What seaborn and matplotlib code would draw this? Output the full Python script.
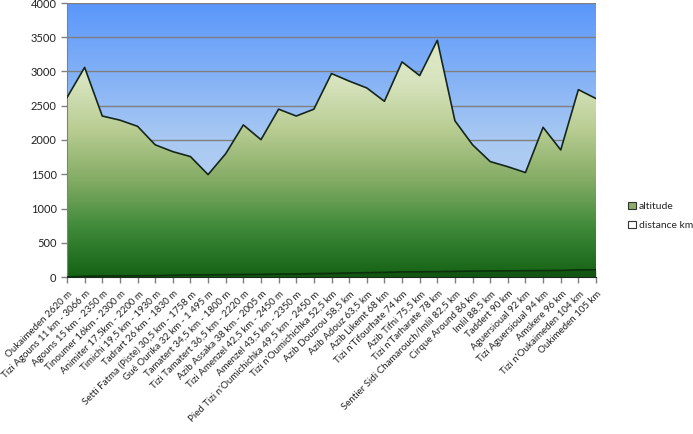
import numpy as np
import pandas as pd
import matplotlib
matplotlib.use("Agg")
import matplotlib.pyplot as plt
import matplotlib.transforms as mtransforms
from matplotlib.colors import LinearSegmentedColormap
from matplotlib.patches import Patch
import seaborn as sns

labels = [
    "Oukaimeden 2620 m", "Tizi Agouns 11 km - 3066 m", "Agouns 15 km - 2350 m",
    "Tinoumer 16km - 2300 m", "Animiter 17,5km - 2200 m", "Timichi 19,5 km - 1930 m",
    "Tadrart 26 km - 1830 m", "Setti Fatma (Piste) 30,5 km - 1758 m",
    "Gué Ourika 32 km - 1 495 m", "Tamatert 34,5 km - 1800 m",
    "Tizi Tamatert 36,5 km - 2220 m", "Azib Assaka 38 km - 2005 m",
    "Tizi Amenzel 42,5 km - 2450 m", "Amenzel 43,5 km - 2350 m",
    "Pied Tizi n'Oumichichka 49,5 km - 2450 m", "Tizi n'Oumichichka 52,5 km",
    "Azib Douzrou 58,5 km", "Azib Adouz 63,5 km", "Azib Likemt 68 km",
    "Tizi n'Tifourhate 74 km", "Azib Tifni 75,5 km", "Tizi n'Tarharate 78 km",
    "Sentier Sidi Chamarouch/Imlil 82,5 km", "Cirque Around 86 km", "Imlil 88,5 km",
    "Taddert 90 km", "Aguersioual 92 km", "Tizi Aguersioual 94 km", "Amskere 96 km",
    "Tizi n'Oukaimeden 104 km", "Oukimeden 105 km",
]
altitude = [2620, 3060, 2350, 2290, 2200, 1930, 1830, 1758, 1495, 1800,
            2220, 2005, 2450, 2350, 2450, 2970, 2860, 2760, 2565, 3140,
            2940, 3455, 2280, 1930, 1685, 1610, 1525, 2185, 1855, 2735, 2605]
distance_km = [0, 11, 15, 16, 17.5, 19.5, 26, 30.5, 32, 34.5, 36.5, 38, 42.5, 43.5,
               49.5, 52.5, 58.5, 63.5, 68, 74, 75.5, 78, 82.5, 86, 88.5, 90, 92,
               94, 96, 104, 105]

df = pd.DataFrame({"pos": np.arange(len(labels)), "altitude": altitude,
                   "distance": distance_km})

sns.set_style("white")
plt.rcParams["font.family"] = ["Lato", "DejaVu Sans"]

fig, ax = plt.subplots(figsize=(6.93, 4.34), dpi=100)
fig.subplots_adjust(left=67 / 693, right=596 / 693, top=1 - 3 / 434, bottom=1 - 277 / 434)

n = len(labels) - 1
ax.set_xlim(0, n)
ax.set_ylim(0, 4000)

# blue sky background
sky = LinearSegmentedColormap.from_list("sky", ["#c9dcf3", "#a9c9f2", "#5a97fb"])
ax.imshow(np.linspace(0, 1, 256).reshape(-1, 1), extent=[0, n, 0, 4000], origin="lower",
          aspect="auto", cmap=sky, zorder=0)
ax.set_axisbelow(True)
ax.yaxis.grid(True, color="#7f7f7f", lw=1)
ax.set_yticks(np.arange(0, 4001, 500))

# green gradient area
green = LinearSegmentedColormap.from_list(
    "green", ["#156215", "#3f8a3a", "#86ad66", "#b9cd93", "#d8e4bf", "#e0e9c8"])
poly = ax.fill_between(df["pos"], df["altitude"], 0, color="none", zorder=2)
img = ax.imshow(np.linspace(0, 1, 256).reshape(-1, 1), extent=[0, n, 0, 3600],
                origin="lower", aspect="auto", cmap=green, zorder=2)
img.set_clip_path(poly.get_paths()[0], transform=ax.transData)

ax.fill_between(df["pos"], df["distance"], 0, color="#0d3d0d", alpha=0.35, lw=0, zorder=3)
sns.lineplot(data=df, x="pos", y="altitude", color="#14261c", lw=1.2, ax=ax, zorder=4)
sns.lineplot(data=df, x="pos", y="distance", color="#0b300b", lw=1.2, ax=ax, zorder=4)

ax.set_xticks(df["pos"])
ax.set_xticklabels(labels, rotation=45, ha="right", va="center", rotation_mode="anchor",
                   fontsize=7)
ax.tick_params(axis="both", length=4, width=1, color="#808080",
               labelcolor="#222222", direction="out", bottom=True, left=True)
ax.tick_params(axis="y", labelsize=8)
ax.tick_params(axis="x", pad=7)
shift = mtransforms.ScaledTranslation(4 / 100, 0, fig.dpi_scale_trans)
for lbl in ax.get_xticklabels():
    lbl.set_transform(lbl.get_transform() + shift)
ax.set_xlabel("")
ax.set_ylabel("")

for side in ["top", "right"]:
    ax.spines[side].set_visible(False)
ax.spines["left"].set_color("#808080")
ax.spines["bottom"].set_color("#1a2a1a")

handles = [Patch(facecolor="#8cac6a", edgecolor="#333333", lw=0.8),
           Patch(facecolor="white", edgecolor="#333333", lw=0.8)]
fig.legend(handles, ["altitude", "distance km"], loc="center left",
           bbox_to_anchor=(0.893, 0.502), frameon=False, fontsize=7.5,
           handlelength=0.7, handleheight=0.7, handletextpad=0.3, labelspacing=0.9)

fig.savefig("out.png", dpi=100)
